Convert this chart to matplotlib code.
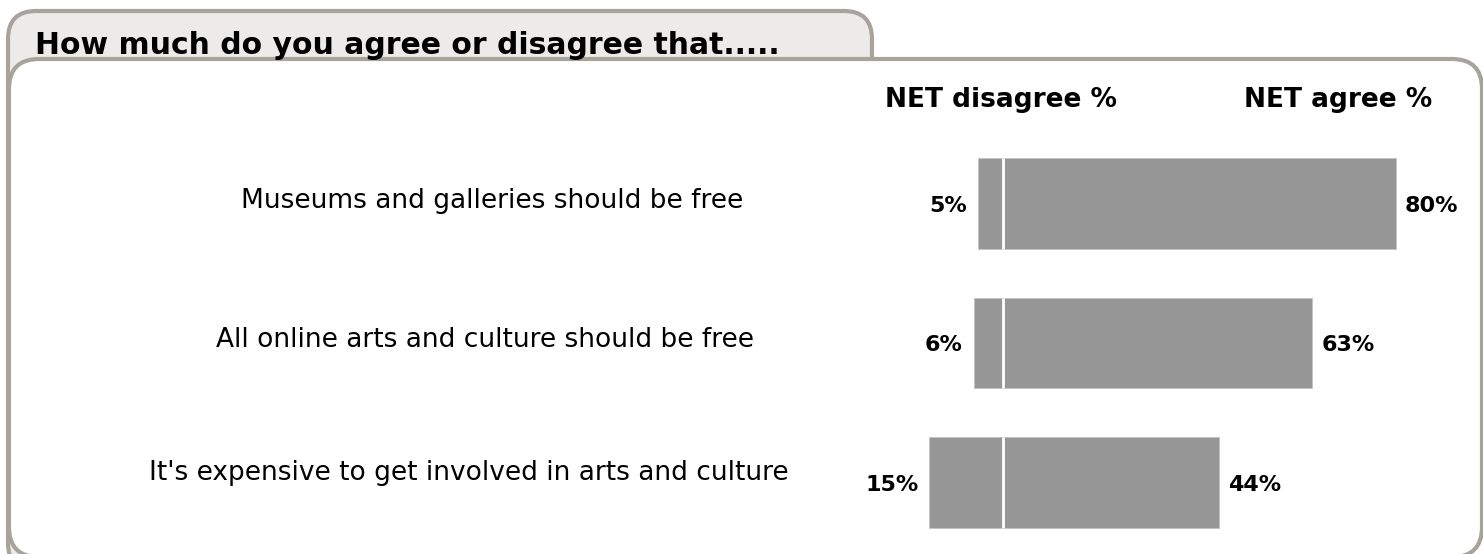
import matplotlib
matplotlib.use("Agg")
import matplotlib.pyplot as plt
from matplotlib.patches import FancyBboxPatch
from matplotlib import transforms

# survey results
statements = ["Museums and galleries should be free",
              "All online arts and culture should be free",
              "It's expensive to get involved in arts and culture"]
net_disagree = [5, 6, 15]
net_agree = [80, 63, 44]
title = "How much do you agree or disagree that....."

W, H = 1483, 554
fig = plt.figure(figsize=(W / 100, H / 100), dpi=100)

# background axes in pixel units for the frame and tab
bg = fig.add_axes([0, 0, 1, 1])
bg.set_xlim(0, W)
bg.set_ylim(H, 0)
bg.axis("off")

edge = "#a8a49c"
tab = FancyBboxPatch((8, 11), 864, 560, boxstyle="round,pad=0,rounding_size=28",
                     fc="#ecebe9", ec=edge, lw=3)
bg.add_patch(tab)
panel = FancyBboxPatch((9, 59), 1473, 498, boxstyle="round,pad=0,rounding_size=30",
                       fc="white", ec=edge, lw=3)
bg.add_patch(panel)
bg.text(35, 46, title, fontsize=21.5, fontweight="bold", ha="left", va="center")

# bar axes: x = 0 sits at pixel 1003, 4.91 px per percent
x0, scale = 1003, 4.91
xmin, xmax = -20, 97
ax_left = x0 + xmin * scale
ax_w = (xmax - xmin) * scale
ax = fig.add_axes([ax_left / W, 1 - 552.25 / H, ax_w / W, (552.25 - 133.75) / H])
ax.set_xlim(xmin, xmax)
ax.set_ylim(2.5, -0.5)
ax.axis("off")

ypos = list(range(len(statements)))
neg = [-v for v in net_disagree]
bar_h = 0.652
ax.barh(ypos, net_disagree, left=neg, height=bar_h, color="#969696",
        edgecolor="#c4c4c4", lw=0.6)
ax.barh(ypos, net_agree, left=0, height=bar_h, color="#969696",
        edgecolor="#c4c4c4", lw=0.6)
ax.vlines([0] * len(ypos), [y - bar_h / 2 for y in ypos], [y + bar_h / 2 for y in ypos],
          color="white", lw=2)

for y, d, a in zip(ypos, net_disagree, net_agree):
    ax.annotate(f"{d}%", (-d, y), xytext=(-11, -2), textcoords="offset pixels",
                ha="right", va="center", fontsize=16, fontweight="bold")
    ax.annotate(f"{a}%", (a, y), xytext=(9, -2), textcoords="offset pixels",
                ha="left", va="center", fontsize=16, fontweight="bold")

# statement labels
label_x = [492, 485, 469]
label_dy = [3, 3, 10]
tr = transforms.blended_transform_factory(bg.transData, ax.transData)
for y, s, lx, dy in zip(ypos, statements, label_x, label_dy):
    ax.annotate(s, (lx, y), xycoords=tr, xytext=(0, dy), textcoords="offset pixels",
                ha="center", va="center", fontsize=19)

bg.text(1001, 100, "NET disagree %", fontsize=19, fontweight="bold", ha="center", va="center")
bg.text(1338, 100, "NET agree %", fontsize=19, fontweight="bold", ha="center", va="center")

fig.savefig("out.png", dpi=100)
